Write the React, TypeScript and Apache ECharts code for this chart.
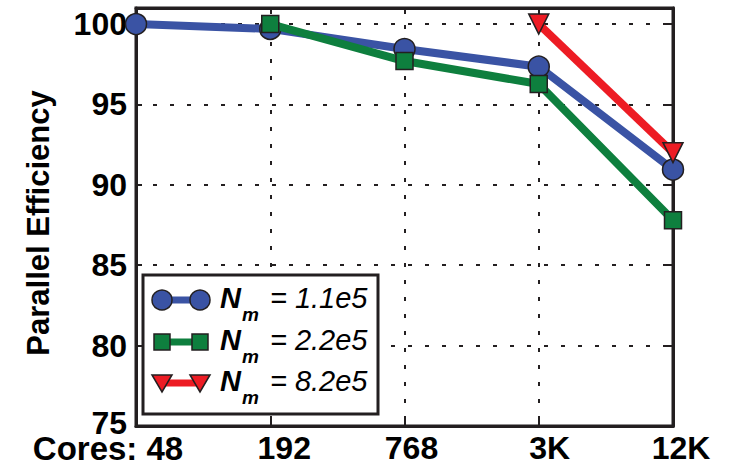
import React, { useEffect, useRef } from "react";
import * as echarts from "echarts";

const categories = ["48", "192", "768", "3K", "12K"];
const firstCategoryPrefix = "Cores: ";
const yTicks = [75, 80, 85, 90, 95, 100];
const seriesLabels = ["1.1e5", "2.2e5", "8.2e5"];
const series1 = [100, 99.7, 98.45, 97.35, 90.95];
const series2 = [null, 100, 97.7, 96.27, 87.8];
const series3 = [null, null, null, 100, 92.0];
const yMin = 75;
const yMax = 101;

const colors = ["#3A53A4", "#0E7F3E", "#ED1C24"];
const symbols = ["circle", "rect", "triangle"];
const ink = "#231F20";
const FONT = "'Liberation Sans', Arial, Helvetica, sans-serif";

export default function App() {
  const ref = useRef<HTMLDivElement>(null);
  useEffect(() => {
    if (!ref.current) return;
    const chart = echarts.init(ref.current, undefined, { renderer: "svg" });
    const allSeries = [series1, series2, series3];

    const legendX = 143, legendY = 275, legendW = 235, legendH = 139;
    const rowY = [300, 342, 383];
    const Z = 100;
    const legendChildren: any[] = [
      {
        type: "rect",
        z: Z,
        shape: { x: legendX, y: legendY, width: legendW, height: legendH },
        style: { fill: "#fff", stroke: ink, lineWidth: 3 },
      },
    ];
    seriesLabels.forEach((lab, i) => {
      const y = rowY[i];
      legendChildren.push({
        type: "line",
        z: Z + 1,
        shape: { x1: 162, y1: y, x2: 200, y2: y },
        style: { stroke: colors[i], lineWidth: 7 },
      });
      [162, 200].forEach((cx) => {
        if (i === 0) {
          legendChildren.push({
            type: "circle",
            z: Z + 2,
            shape: { cx, cy: y, r: 10 },
            style: { fill: colors[i], stroke: ink, lineWidth: 1.5 },
          });
        } else if (i === 1) {
          legendChildren.push({
            type: "rect",
            z: Z + 2,
            shape: { x: cx - 8, y: y - 8, width: 16, height: 16 },
            style: { fill: colors[i], stroke: ink, lineWidth: 1.5 },
          });
        } else {
          legendChildren.push({
            type: "polygon",
            z: Z + 2,
            shape: { points: [[cx - 10, y - 8], [cx + 10, y - 8], [cx, y + 9]] },
            style: { fill: colors[i], stroke: ink, lineWidth: 1.5 },
          });
        }
      });
      legendChildren.push({
        type: "text",
        z: Z + 2,
        x: 220,
        y: y - 17,
        style: {
          text: `{n|N}{s|m}{t| = ${lab}}`,
          fill: "#000",
          rich: {
            n: { fontFamily: FONT, fontSize: 29, fontWeight: "bold", fontStyle: "italic", lineHeight: 34, verticalAlign: "top" },
            s: { fontFamily: FONT, fontSize: 19, fontWeight: "bold", fontStyle: "italic", lineHeight: 19, padding: [22, 3, 0, 1], verticalAlign: "top" },
            t: { fontFamily: FONT, fontSize: 29, fontStyle: "italic", lineHeight: 34, verticalAlign: "top" },
          },
        },
      });
    });

    const lab = { fontFamily: FONT, fontWeight: "bold", fontSize: 32, lineHeight: 24, color: "#000" };

    chart.setOption({
      animation: false,
      backgroundColor: "#fff",
      grid: {
        left: 136,
        right: 61,
        top: 8,
        bottom: 40,
        show: true,
        borderColor: ink,
        borderWidth: 3,
        backgroundColor: "transparent",
      },
      xAxis: [
        {
          type: "category",
          data: categories,
          boundaryGap: false,
          axisLine: { lineStyle: { color: ink, width: 3 } },
          axisTick: { interval: 0, inside: true, length: 6, lineStyle: { color: ink, width: 2 } },
          axisLabel: {
            interval: 0,
            hideOverlap: false,
            ...lab,
            margin: 10,
            formatter: (v: string, i: number) =>
              i === 0
                ? `{f|${firstCategoryPrefix}${v}}{g0|}`
                : `{g${i}|}{b|${v}}`,
            rich: {
              f: { ...lab, fontSize: 33 },
              b: { ...lab },
              g0: { ...lab, width: 56 },
              g1: { ...lab, width: 28 },
              g2: { ...lab, width: 14 },
              g3: { ...lab, width: 22 },
              g4: { ...lab, width: 16 },
            },
          },
          splitLine: { show: true, interval: 0, lineStyle: { color: ink, width: 2, type: [4, 13] } },
        },
        {
          type: "category",
          position: "top",
          data: categories,
          boundaryGap: false,
          axisLine: { lineStyle: { color: ink, width: 3 } },
          axisTick: { interval: 0, inside: true, length: 6, lineStyle: { color: ink, width: 2 } },
          axisLabel: { show: false },
          splitLine: { show: false },
        },
      ],
      yAxis: [
        {
          type: "value",
          min: yMin,
          max: yMax,
          interval: 5,
          name: "Parallel Efficiency",
          nameLocation: "middle",
          nameGap: 82,
          nameTextStyle: {
            fontFamily: FONT,
            fontWeight: "bold",
            fontSize: 31,
            color: "#000",
            padding: [0, 12, 0, 0],
          },
          axisLine: { show: true, lineStyle: { color: ink, width: 3 } },
          axisTick: { show: true, inside: true, length: 6, lineStyle: { color: ink, width: 2 } },
          axisLabel: {
            fontFamily: FONT,
            fontWeight: "bold",
            fontSize: 32,
            lineHeight: 18,
            color: "#000",
            margin: 9,
            showMaxLabel: false,
            formatter: (v: number) =>
              yTicks.includes(v) ? (v === yMin ? `{up|${v}}` : String(v)) : "",
            rich: {
              up: {
                fontFamily: FONT,
                fontWeight: "bold",
                fontSize: 32,
                lineHeight: 18,
                color: "#000",
                padding: [0, 0, 6, 0],
              },
            },
          },
          splitLine: { show: true, lineStyle: { color: ink, width: 2, type: [4, 13] } },
        },
        {
          type: "value",
          position: "right",
          min: yMin,
          max: yMax,
          interval: 5,
          axisLine: { show: true, lineStyle: { color: ink, width: 3 } },
          axisTick: { show: true, inside: true, length: 6, lineStyle: { color: ink, width: 2 } },
          axisLabel: { show: false },
          splitLine: { show: false },
        },
      ],
      series: allSeries.map((d, i) => ({
        type: "line",
        name: seriesLabels[i],
        data: d,
        xAxisIndex: 0,
        yAxisIndex: 0,
        symbol: symbols[i],
        symbolSize: i === 0 ? 21 : i === 1 ? 17 : 20,
        symbolRotate: i === 2 ? 180 : 0,
        showAllSymbol: true,
        connectNulls: false,
        lineStyle: { color: colors[i], width: 8 },
        itemStyle: { color: colors[i], borderColor: ink, borderWidth: 1.5 },
        z: 3 + i,
      })),
      graphic: [{ type: "group", z: Z, children: legendChildren }],
    });
    return () => chart.dispose();
  }, []);
  return (
    <div
      ref={ref}
      style={{ position: "fixed", left: 0, top: 0, width: 734, height: 466 }}
    />
  );
}
